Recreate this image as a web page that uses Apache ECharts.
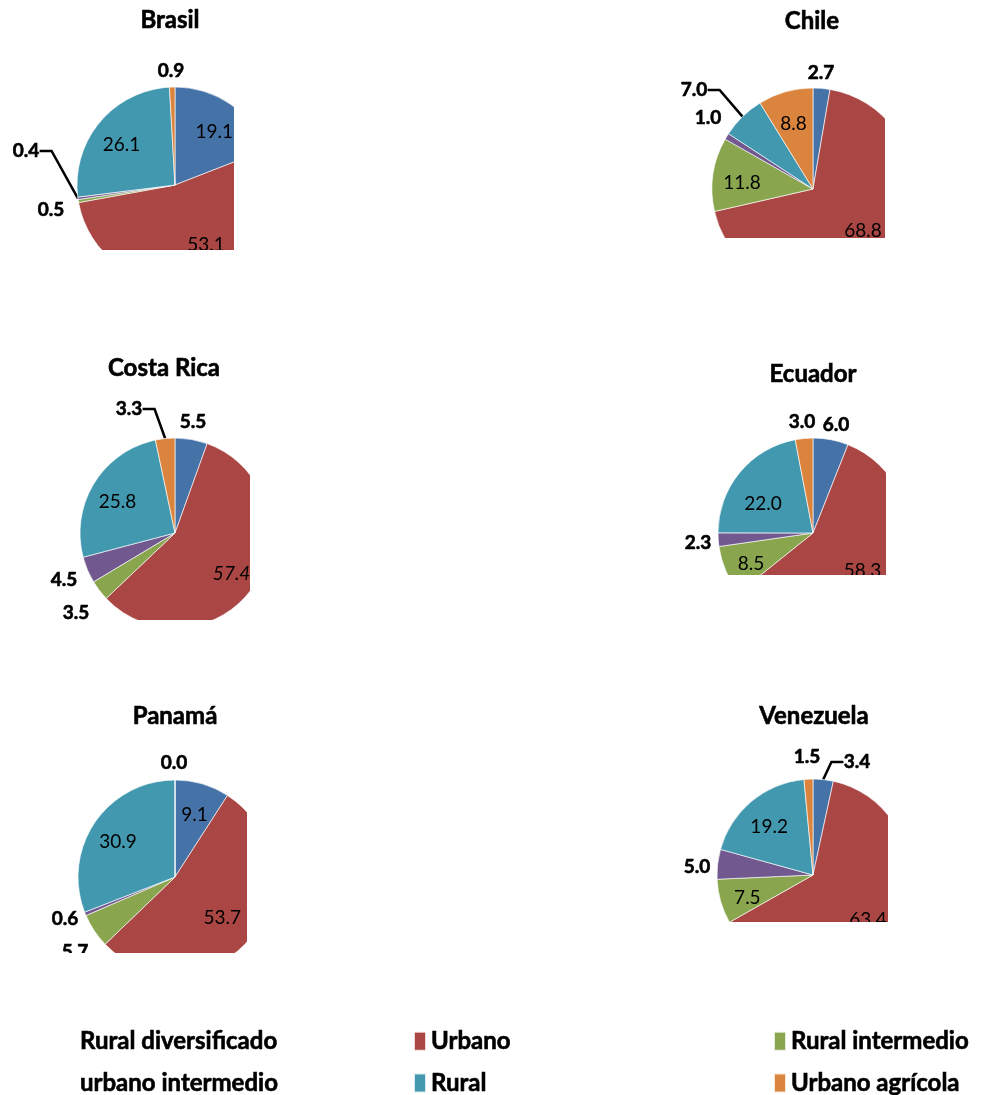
<!DOCTYPE html>
<html>
<head>
<meta charset="utf-8">
<script src="https://cdn.jsdelivr.net/npm/echarts@6/dist/echarts.min.js"></script>
<style>
  html, body { margin: 0; padding: 0; background: #fff; }
  #chart { width: 982px; height: 1095px; }
</style>
</head>
<body>
<div id="chart"></div>
<script>
// Slice categories, drawn clockwise from 12 o'clock
const categories = ['Rural diversificado', 'Urbano', 'Rural intermedio', 'urbano intermedio', 'Rural', 'Urbano agrícola'];
const countries = ['Brasil', 'Chile', 'Costa Rica', 'Ecuador', 'Panamá', 'Venezuela'];

// Share of population by territory type (%)
const brasil    = [19.1, 53.1, 0.5, 0.4, 26.1, 0.9];
const chile     = [2.7, 68.8, 11.8, 1.0, 7.0, 8.8];
const costaRica = [5.5, 57.4, 3.5, 4.5, 25.8, 3.3];
const ecuador   = [6.0, 58.3, 8.5, 2.3, 22.0, 3.0];
const panama    = [9.1, 53.7, 5.7, 0.6, 30.9, 0.0];
const venezuela = [3.4, 63.4, 7.5, 5.0, 19.2, 1.5];
const shares = [brasil, chile, costaRica, ecuador, panama, venezuela];

const palette = ['#4572A7', '#AA4643', '#89A54E', '#71588F', '#4198AF', '#DB843D'];
const FONT = 'Lato, "Open Sans", sans-serif';
// Heavy text: bold face plus a thin outline in the same colour
const heavy = { fontFamily: FONT, fontWeight: 'bold', color: '#000', textBorderColor: '#000', textBorderWidth: 0.6 };

// Pie frames: centre, radius, title anchor and the edges where each plot area ends
const frames = [
  { cx: 175, cy: 185, r: 98,  clipX: 234, clipY: 250, tx: 170, ty: 20 },
  { cx: 813, cy: 189, r: 101, clipX: 885, clipY: 238, tx: 812, ty: 21 },
  { cx: 175, cy: 533, r: 95,  clipX: 250, clipY: 620, tx: 164, ty: 368 },
  { cx: 813, cy: 533, r: 95,  clipX: 886, clipY: 575, tx: 813, ty: 374 },
  { cx: 175, cy: 877, r: 97,  clipX: 247, clipY: 953, tx: 175, ty: 716 },
  { cx: 813, cy: 875, r: 96,  clipX: 888, clipY: 922, tx: 814, ty: 716 }
];

// Labels placed outside their slice: slice index -> [dx, dy from pie centre, leader line?]
const callouts = [
  { 5: [-4, -114], 3: [-149, -34, 1], 2: [-124, 25] },
  { 0: [8, -116], 4: [-119, -99, 1], 3: [-105, -71] },
  { 5: [-46, -124, 1], 0: [18, -111], 3: [-111, 47], 2: [-99, 80] },
  { 5: [-11, -111], 0: [23, -108], 3: [-115, 10] },
  { 5: [-1, -114], 3: [-110, 42], 2: [-100, 75] },
  { 5: [-6, -118], 0: [44, -113, 1], 3: [-116, -8] }
];
// Small shifts of individual in-slice labels: slice index -> [dx, dy]
const insideNudge = [
  { 1: [12, -11] },
  { 1: [-2, -11] },
  {},
  { 1: [-5, -6], 4: [2, 10] },
  { 1: [-6, -7] },
  {}
];
// Inside labels set in italics: [pie, slice]
const italicLabels = [[2, 1]];

const fmt = p => p.value.toFixed(1);

const series = [];
// Coloured slices with the outside callouts
shares.forEach((vals, k) => {
  const f = frames[k];
  const co = callouts[k];
  series.push({
    type: 'pie',
    name: countries[k],
    center: [f.cx, f.cy],
    radius: [0, f.r],
    startAngle: 90,
    clockwise: true,
    avoidLabelOverlap: false,
    animation: false,
    emphasis: { disabled: true },
    itemStyle: { borderColor: 'rgba(255,255,255,0.8)', borderWidth: 0.8 },
    label: Object.assign({ position: 'outside', formatter: fmt, fontSize: 19 }, heavy),
    labelLine: { length: 8, length2: 12, minTurnAngle: 0, lineStyle: { color: '#000', width: 2.5 } },
    labelLayout: p => {
      const c = co[p.dataIndex];
      if (!c) return {};
      return { x: f.cx + c[0], y: f.cy + c[1], align: 'center', verticalAlign: 'middle' };
    },
    data: categories.map((name, i) => ({
      name, value: vals[i],
      label: { show: !!co[i] },
      labelLine: { show: !!(co[i] && co[i][2]) }
    }))
  });
});
// Transparent ring carrying the in-slice value labels further out from the centre
shares.forEach((vals, k) => {
  const f = frames[k];
  const co = callouts[k];
  const nudge = insideNudge[k];
  series.push({
    type: 'pie',
    center: [f.cx, f.cy],
    radius: [f.r * 0.36, f.r],
    startAngle: 90,
    clockwise: true,
    silent: true,
    animation: false,
    emphasis: { disabled: true },
    itemStyle: { color: 'rgba(0,0,0,0)', borderWidth: 0 },
    label: {
      position: 'inside', formatter: fmt,
      fontFamily: FONT, fontSize: 19, color: '#000', textBorderWidth: 0
    },
    labelLine: { show: false },
    labelLayout: p => {
      const n = nudge[p.dataIndex] || [0, 0];
      return { dx: n[0], dy: 4 + n[1] };
    },
    data: categories.map((name, i) => ({
      name, value: vals[i],
      label: {
        show: !co[i],
        fontStyle: italicLabels.some(a => a[0] === k && a[1] === i) ? 'italic' : 'normal'
      }
    }))
  });
});

const titles = countries.map((t, k) => ({
  text: t,
  left: frames[k].tx, top: frames[k].ty,
  textAlign: 'center', textVerticalAlign: 'middle',
  padding: 0,
  textStyle: Object.assign({ fontSize: 24 }, heavy)
}));

// Plot areas end at the right and bottom edges of each frame
const masks = [];
frames.forEach(f => {
  const top = f.cy - f.r - 40;
  const bottom = f.cy + f.r + 12;
  masks.push({ type: 'rect', z: 100, silent: true,
    shape: { x: f.clipX, y: top, width: 120, height: bottom - top },
    style: { fill: '#fff' } });
  masks.push({ type: 'rect', z: 100, silent: true,
    shape: { x: f.cx - f.r - 60, y: f.clipY, width: 2 * f.r + 150, height: bottom - f.clipY },
    style: { fill: '#fff' } });
});

const legendText = Object.assign({ fontSize: 24, lineHeight: 24 }, heavy);
const legendBase = {
  orient: 'vertical', top: 1029, height: 100, padding: 0, itemGap: 17,
  itemWidth: 12, itemHeight: 19, icon: 'rect', selectedMode: false,
  textStyle: legendText
};

const option = {
  backgroundColor: '#fff',
  color: palette,
  animation: false,
  title: titles,
  legend: [
    Object.assign({}, legendBase, { left: 63, icon: 'none', data: [categories[0], categories[3]] }),
    Object.assign({}, legendBase, { left: 413, data: [categories[1], categories[4]] }),
    Object.assign({}, legendBase, { left: 773, data: [categories[2], categories[5]] })
  ],
  graphic: masks,
  series
};

const chart = echarts.init(document.getElementById('chart'), null, { renderer: 'canvas' });
chart.setOption(option);
</script>
</body>
</html>
